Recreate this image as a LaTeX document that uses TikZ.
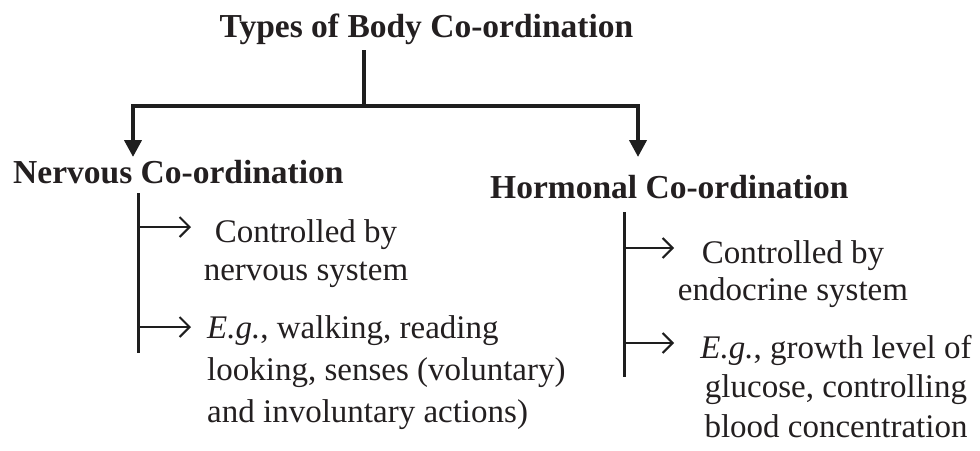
\documentclass[tikz,border=0pt]{standalone}
\usepackage{fontspec}
\setmainfont{Liberation Serif}
\usetikzlibrary{arrows.meta,calc}
\definecolor{LineClr}{RGB}{30,30,30}
\definecolor{TextClr}{RGB}{35,31,32}

\begin{document}
\begin{tikzpicture}[x=1pt,y=-1pt,
  head/.style={font=\bfseries\fontsize{33.5}{40}\selectfont,text=TextClr,inner sep=0pt},
  note/.style={text=TextClr,inner sep=0pt},
  tree/.style={line width=4pt,color=LineClr},
  down/.style={tree,-{Triangle[length=17pt,width=17pt]}},
  spine/.style={line width=3pt,color=LineClr},
  branch/.style={line width=2.2pt,color=LineClr,
    -{Straight Barb[line width=2pt,length=10pt,width=20pt]}}]
\useasboundingbox (0,0) rectangle (980,450);

% title and the two kinds
\node[head,anchor=base] (title) at (426.5,37) {Types of Body Co-ordination};
\node[head,anchor=base west] (nerv) at (13,183) {Nervous Co-ordination};
\node[head,anchor=base west] (horm) at (490,198) {Hormonal Co-ordination};

\coordinate (stemtop) at (364,50);
\coordinate (fork) at (364,106);
\coordinate (forkL) at (133,106);
\coordinate (forkR) at (638,106);
\coordinate (tipL) at (133,157);
\coordinate (tipR) at (638,157);

\draw[tree] (stemtop) -- (fork);
\draw[tree] ([xshift=-2pt]forkL) -- ([xshift=2pt]forkR);
\draw[down] (forkL) -- (tipL);
\draw[down] (forkR) -- (tipR);

% nervous side
\node[note,align=center,anchor=base,font=\fontsize{33}{38}\selectfont] (nerv1) at (306,280)
  {Controlled by\\nervous system};
\node[note,align=left,anchor=base west,font=\fontsize{33}{42}\selectfont] (nerv2) at (207,422)
  {\textit{E.g.}, walking, reading\\looking, senses (voluntary)\\and involuntary actions)};

\coordinate (nervtop) at (138,193);
\coordinate (nervbot) at (138,353);
\coordinate (nervA) at (138,227);
\coordinate (nervB) at (138,327);
\draw[spine] (nervtop) -- (nervbot);
\draw[branch] (nervA) -- ++(53,0);
\draw[branch] (nervB) -- ++(53,0);

% hormonal side
\node[note,align=center,anchor=base,font=\fontsize{33}{37}\selectfont] (horm1) at (793,300)
  {Controlled by\\endocrine system};
\node[note,align=center,anchor=base,font=\fontsize{33}{39.5}\selectfont] (horm2) at (836,437)
  {\textit{E.g.}, growth level of\\glucose, controlling\\blood concentration};

\coordinate (hormtop) at (624,212);
\coordinate (hormbot) at (624,377);
\coordinate (hormA) at (624,248);
\coordinate (hormB) at (624,343);
\draw[spine] (hormtop) -- (hormbot);
\draw[branch] (hormA) -- ++(50,0);
\draw[branch] (hormB) -- ++(50,0);

\end{tikzpicture}
\end{document}
